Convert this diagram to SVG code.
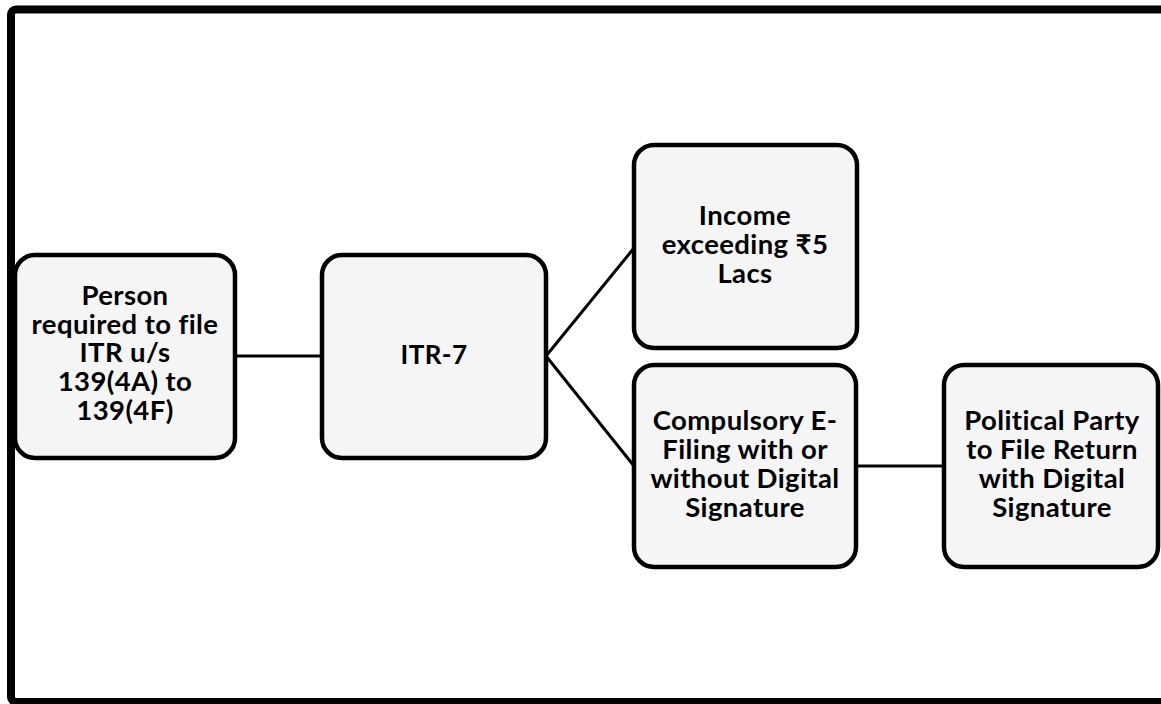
<svg xmlns="http://www.w3.org/2000/svg" width="1161" height="704" viewBox="0 0 1161 704">
<style>
.node rect{fill:#f5f5f5;stroke:#000;stroke-width:4.5}
.node text{font-family:Lato,"Noto Sans",sans-serif;font-weight:bold;font-size:27.5px;letter-spacing:0.4px;fill:#000;text-anchor:middle}
.conn line{stroke:#000;stroke-width:3}
</style>
<rect width="1161" height="704" fill="#fff"/>
<rect x="11" y="9.5" width="1200" height="692.5" rx="5" fill="none" stroke="#000" stroke-width="8"/>
<g class="conn">
<line x1="237" y1="356" x2="322" y2="356"/>
<line x1="546" y1="356" x2="634" y2="248"/>
<line x1="546" y1="356" x2="634" y2="466"/>
<line x1="856" y1="466" x2="944" y2="466"/>
</g>
<g id="n1" class="node">
<rect x="15" y="255" width="220" height="203" rx="20"/>
<text x="125"><tspan x="125" y="305">Person</tspan><tspan x="125" y="334">required to file</tspan><tspan x="125" y="362">ITR u/s</tspan><tspan x="125" y="391">139(4A) to</tspan><tspan x="125" y="420">139(4F)</tspan></text>
</g>
<g id="n2" class="node">
<rect x="322" y="255" width="224" height="203" rx="20"/>
<text x="434" y="364" style="font-size:26px">ITR-7</text>
</g>
<g id="n3" class="node">
<rect x="634" y="145" width="223" height="203" rx="20"/>
<text><tspan x="745" y="225">Income</tspan><tspan x="745" y="254">exceeding ₹5</tspan><tspan x="745" y="283">Lacs</tspan></text>
</g>
<g id="n4" class="node">
<rect x="634" y="365" width="222" height="202" rx="20"/>
<text><tspan x="745" y="430">Compulsory E-</tspan><tspan x="745" y="459">Filing with or</tspan><tspan x="745" y="488">without Digital</tspan><tspan x="745" y="517">Signature</tspan></text>
</g>
<g id="n5" class="node">
<rect x="944" y="365" width="214" height="202" rx="20"/>
<text><tspan x="1052" y="430">Political Party</tspan><tspan x="1052" y="459">to File Return</tspan><tspan x="1052" y="488">with Digital</tspan><tspan x="1052" y="517">Signature</tspan></text>
</g>
</svg>
